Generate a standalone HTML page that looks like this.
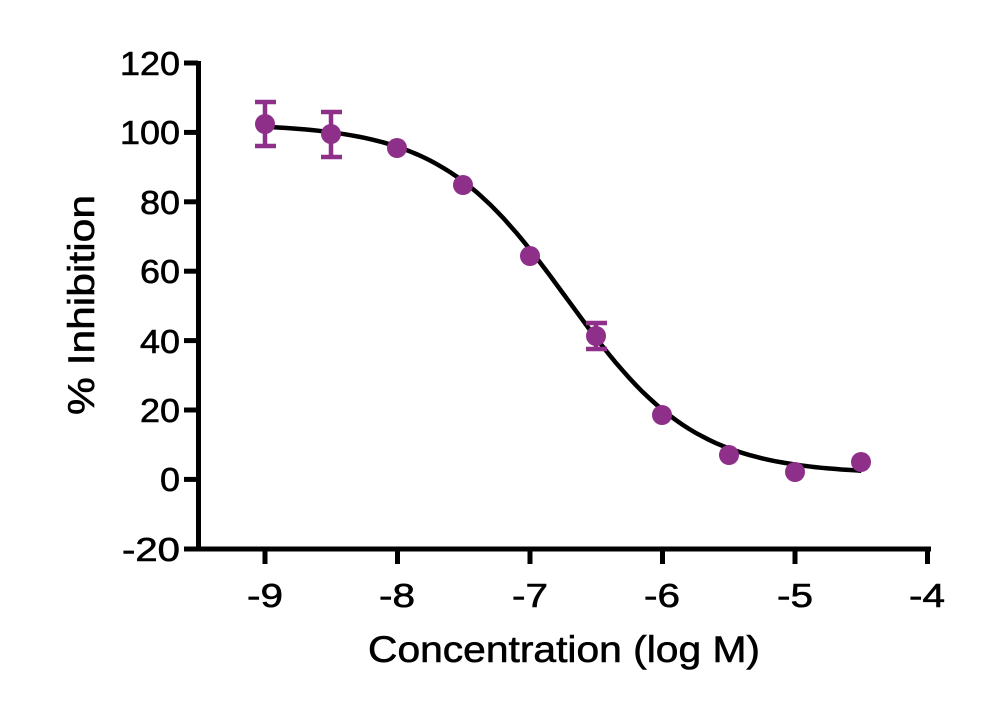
<!DOCTYPE html>
<html><head><style>
html,body{margin:0;padding:0;background:#fff;}
svg{display:block;}
text{font-family:"Liberation Sans",sans-serif;fill:#000;stroke:#000;stroke-width:0.6;}
</style></head><body>
<svg id="s" width="1005" height="714" viewBox="0 0 1005 714">
<g stroke="#000" stroke-width="5" fill="none">
<line x1="198.5" y1="61" x2="198.5" y2="551"/>
<line x1="196" y1="549" x2="931" y2="549"/>
<line x1="184" y1="63" x2="198" y2="63"/>
<line x1="184" y1="132.4" x2="198" y2="132.4"/>
<line x1="184" y1="201.8" x2="198" y2="201.8"/>
<line x1="184" y1="271.2" x2="198" y2="271.2"/>
<line x1="184" y1="340.6" x2="198" y2="340.6"/>
<line x1="184" y1="410" x2="198" y2="410"/>
<line x1="184" y1="479.4" x2="198" y2="479.4"/>
<line x1="184" y1="549" x2="198" y2="549"/>
<line x1="265" y1="549" x2="265" y2="564"/>
<line x1="397.5" y1="549" x2="397.5" y2="564"/>
<line x1="530" y1="549" x2="530" y2="564"/>
<line x1="662.5" y1="549" x2="662.5" y2="564"/>
<line x1="795" y1="549" x2="795" y2="564"/>
<line x1="927.5" y1="549" x2="927.5" y2="564"/>
</g>
<g font-size="33" text-anchor="end">
<text x="180" y="75" textLength="60" lengthAdjust="spacingAndGlyphs">120</text>
<text x="180" y="144" textLength="60" lengthAdjust="spacingAndGlyphs">100</text>
<text x="180" y="214" textLength="40" lengthAdjust="spacingAndGlyphs">80</text>
<text x="180" y="283" textLength="40" lengthAdjust="spacingAndGlyphs">60</text>
<text x="180" y="353" textLength="40" lengthAdjust="spacingAndGlyphs">40</text>
<text x="180" y="422" textLength="40" lengthAdjust="spacingAndGlyphs">20</text>
<text x="180" y="491" textLength="20" lengthAdjust="spacingAndGlyphs">0</text>
<text x="180" y="561" textLength="58" lengthAdjust="spacingAndGlyphs">-20</text>
</g>
<g font-size="33" text-anchor="middle">
<text x="265" y="607" textLength="36" lengthAdjust="spacingAndGlyphs">-9</text>
<text x="397" y="607" textLength="36" lengthAdjust="spacingAndGlyphs">-8</text>
<text x="530" y="607" textLength="36" lengthAdjust="spacingAndGlyphs">-7</text>
<text x="662" y="607" textLength="36" lengthAdjust="spacingAndGlyphs">-6</text>
<text x="795" y="607" textLength="36" lengthAdjust="spacingAndGlyphs">-5</text>
<text x="927" y="607" textLength="36" lengthAdjust="spacingAndGlyphs">-4</text>
</g>
<text x="564" y="662" font-size="37" text-anchor="middle" textLength="392" lengthAdjust="spacingAndGlyphs">Concentration (log M)</text>
<text transform="translate(94,305) rotate(-90)" font-size="37" text-anchor="middle" textLength="220" lengthAdjust="spacingAndGlyphs">% Inhibition</text>
<path id="curve" stroke="#000" stroke-width="4.5" fill="none"/>
<g stroke="#8e2f8a" stroke-width="4.5" fill="none">
<line x1="265" y1="102" x2="265" y2="146"/><line x1="255" y1="102" x2="276" y2="102"/><line x1="255" y1="146" x2="276" y2="146"/>
<line x1="331" y1="112" x2="331" y2="157"/><line x1="321" y1="112" x2="342" y2="112"/><line x1="321" y1="157" x2="342" y2="157"/>
<line x1="596" y1="323" x2="596" y2="349"/><line x1="586" y1="323" x2="607" y2="323"/><line x1="586" y1="349" x2="607" y2="349"/>
</g>
<g fill="#8e2f8a">
<circle cx="265" cy="124" r="10"/>
<circle cx="331" cy="134" r="10"/>
<circle cx="397" cy="148" r="10"/>
<circle cx="463" cy="185" r="10"/>
<circle cx="530" cy="256" r="10"/>
<circle cx="596" cy="336" r="10"/>
<circle cx="662" cy="415" r="10"/>
<circle cx="729" cy="455" r="10"/>
<circle cx="795" cy="472" r="10"/>
<circle cx="861" cy="462" r="10"/>
</g>
</svg>
<script>
var d="";
for(var i=0;i<=90;i++){var x=-9+i*4.5/90;var y=1.5+101/(1+Math.pow(10,(x+6.72)*0.9));
var px=265+(x+9)*132.5, py=479.4-y*3.47;d+=(i?"L":"M")+px.toFixed(1)+","+py.toFixed(1);}
document.getElementById("curve").setAttribute("d",d);
</script>
</body></html>
